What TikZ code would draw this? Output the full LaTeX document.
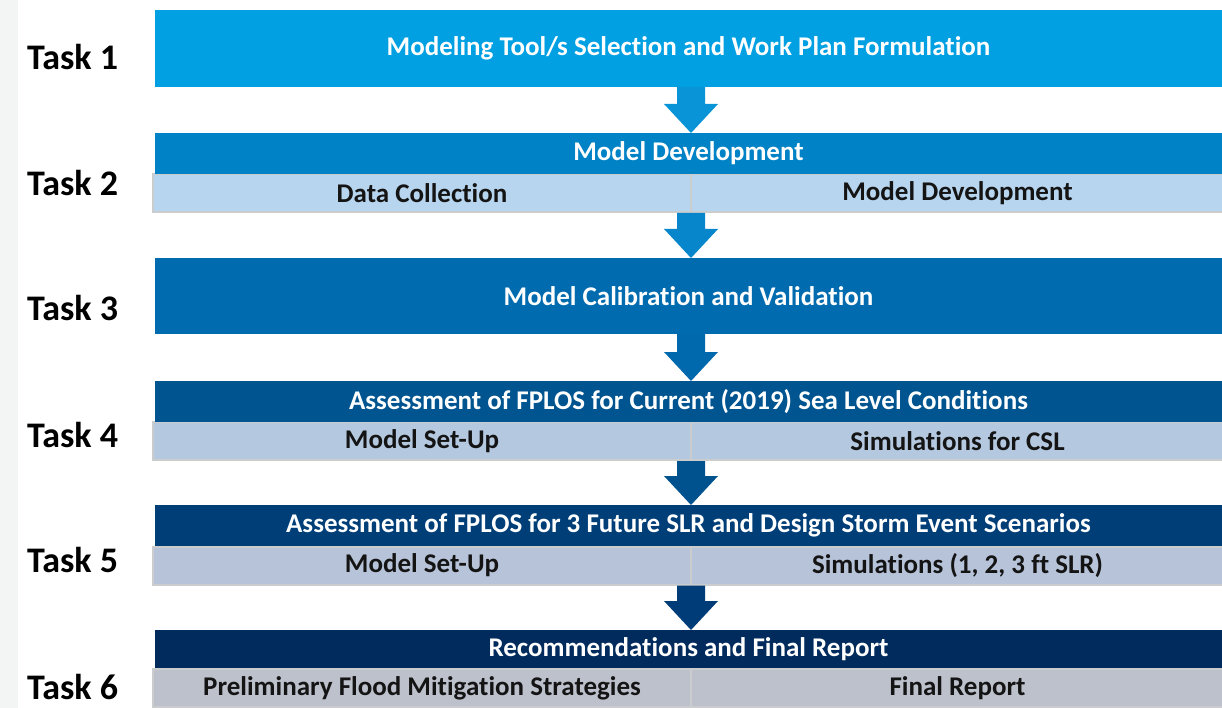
\documentclass[tikz,border=0pt]{standalone}
\usepackage{fontspec}
\setmainfont{Carlito}[Ligatures=NoCommon]
\usetikzlibrary{calc}
\definecolor{stripgray}{HTML}{F3F5F5}
\definecolor{cA}{HTML}{00A0E3}
\definecolor{cB}{HTML}{0082C6}
\definecolor{cC}{HTML}{006BAF}
\definecolor{cD}{HTML}{00548F}
\definecolor{cE}{HTML}{003E78}
\definecolor{cF}{HTML}{002B5C}
\definecolor{sB}{HTML}{B7D5EE}
\definecolor{sD}{HTML}{B4C8E0}
\definecolor{sE}{HTML}{B7C3D8}
\definecolor{sF}{HTML}{BDC1CC}
\definecolor{aA}{HTML}{0A94D8}
\definecolor{aB}{HTML}{0786CB}
\definecolor{aC}{HTML}{0068AC}
\definecolor{aD}{HTML}{00528E}
\definecolor{aE}{HTML}{003C77}
\definecolor{subline}{HTML}{CBCCCE}
\definecolor{subtext}{HTML}{141414}
\newcommand\flowarrow[3]{%
  \fill[#1] let \p1=(axis |- #2.south), \p2=(axis |- #3.north) in
    (\x1-14pt,\y1) -- (\x1+14pt,\y1) -- (\x1+14pt,\y2+29pt) -- (\x1+27pt,\y2+29pt)
    -- (\x2,\y2) -- (\x1-27pt,\y2+29pt) -- (\x1-14pt,\y2+29pt) -- cycle;}
\begin{document}
\begin{tikzpicture}[x=1pt,y=-1pt,
  tasklabel/.style={anchor=west,inner sep=0pt,font=\bfseries\fontsize{36}{40}\selectfont,text=black},
  bigbox/.style={rectangle,inner sep=0pt,outer sep=0pt,minimum width=1067pt,
     text=white,font=\bfseries\fontsize{27}{30}\selectfont},
  subcell/.style={rectangle,inner sep=0pt,draw=subline,line width=2pt,
     text=subtext,font=\bfseries\fontsize{27}{30}\selectfont,minimum height=38pt}]
\useasboundingbox (0,0) rectangle (1222,708);
\fill[stripgray] (0,0) rectangle (18,708);
\coordinate (axis) at (691,0);

% Task 1
\node[bigbox,fill=cA,minimum height=77pt] (t1) at (688.5,48.5)
  {Modeling Tool/s Selection and Work Plan Formulation};
% Task 2
\node[subcell,fill=sB,minimum width=538pt] (t2l) at (422,193) {Data Collection};
\node[subcell,fill=sB,minimum width=533pt] (t2r) at (957.5,193) {Model Development};
\node[bigbox,fill=cB,minimum height=41pt] (t2) at (688.5,153.5) {Model Development};
% Task 3
\node[bigbox,fill=cC,minimum height=76pt] (t3) at (688.5,296) {Model Calibration and Validation};
% Task 4
\node[subcell,fill=sD,minimum width=538pt] (t4l) at (422,441) {Model Set-Up};
\node[subcell,fill=sD,minimum width=533pt] (t4r) at (957.5,441) {Simulations for CSL};
\node[bigbox,fill=cD,minimum height=41pt] (t4) at (688.5,401.5)
  {Assessment of FPLOS for Current (2019) Sea Level Conditions};
% Task 5
\node[subcell,fill=sE,minimum width=538pt] (t5l) at (422,565.5) {Model Set-Up};
\node[subcell,fill=sE,minimum width=533pt] (t5r) at (957.5,565.5) {Simulations (1, 2, 3 ft SLR)};
\node[bigbox,fill=cE,minimum height=41pt] (t5) at (688.5,525.5)
  {Assessment of FPLOS for 3 Future SLR and Design Storm Event Scenarios};
% Task 6
\node[subcell,fill=sF,minimum width=538pt] (t6l) at (422,688) {Preliminary Flood Mitigation Strategies};
\node[subcell,fill=sF,minimum width=533pt] (t6r) at (957.5,688) {Final Report};
\node[bigbox,fill=cF,minimum height=38pt] (t6) at (688.5,649) {Recommendations and Final Report};

% arrows
\flowarrow{aA}{t1}{t2}
\flowarrow{aB}{t2r}{t3}
\flowarrow{aC}{t3}{t4}
\flowarrow{aD}{t4r}{t5}
\flowarrow{aE}{t5r}{t6}

% labels
\node[tasklabel] (l1) at (27,57) {Task 1};
\node[tasklabel] (l2) at (27,183) {Task 2};
\node[tasklabel] (l3) at (27,308) {Task 3};
\node[tasklabel] (l4) at (27,435) {Task 4};
\node[tasklabel] (l5) at (27,560) {Task 5};
\node[tasklabel] (l6) at (27,687) {Task 6};
\end{tikzpicture}
\end{document}
